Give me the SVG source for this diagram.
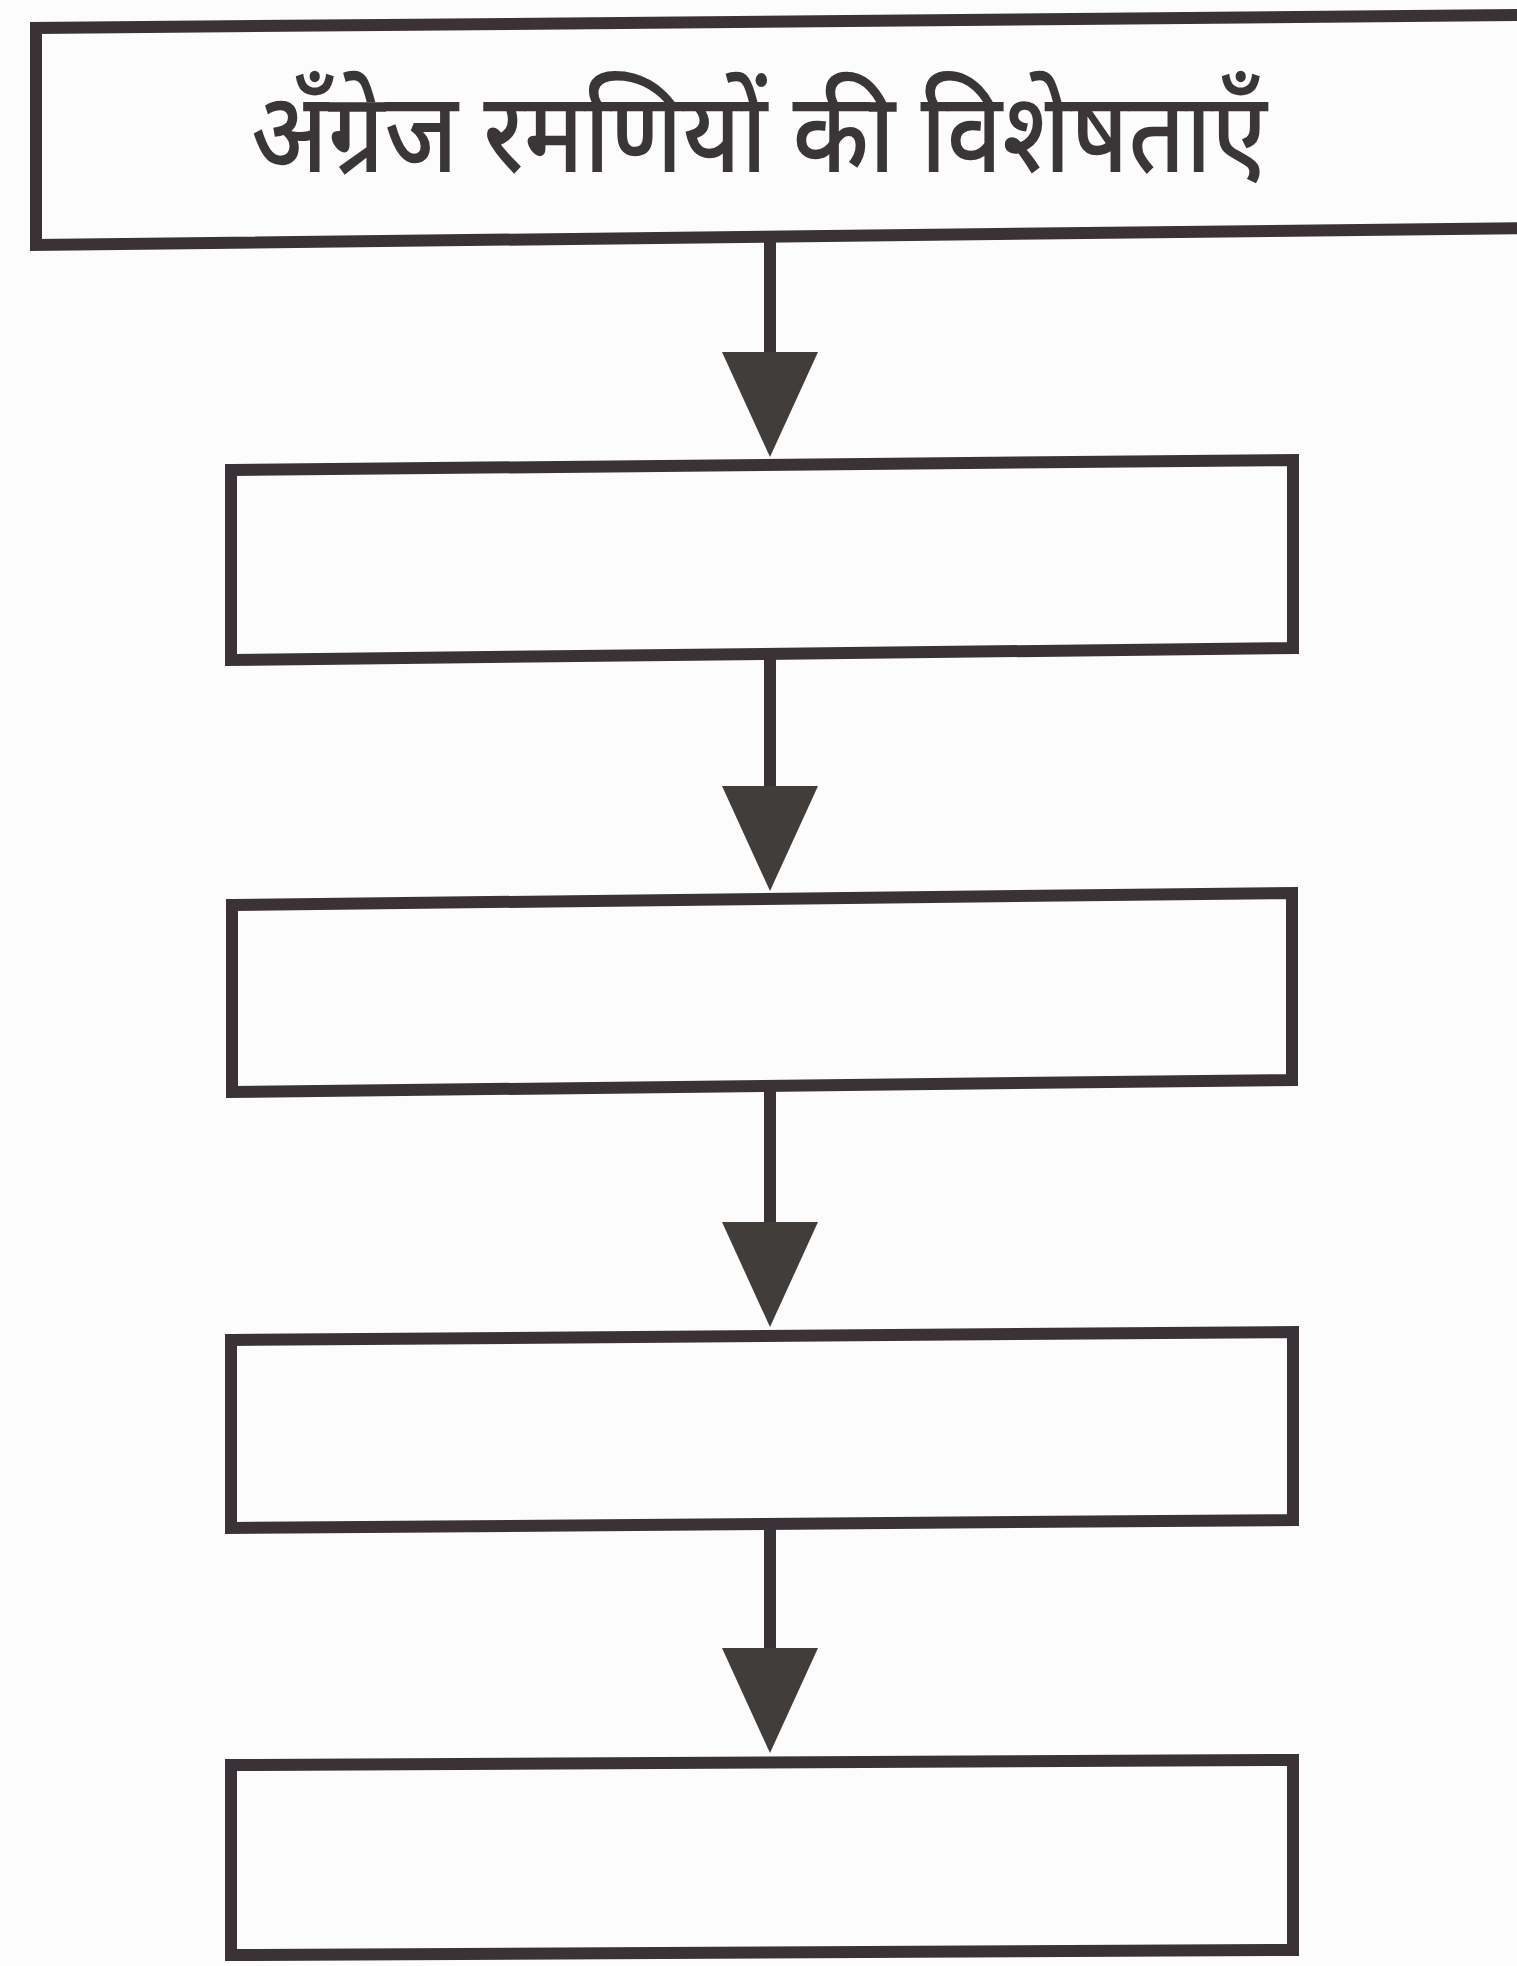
<svg xmlns="http://www.w3.org/2000/svg" width="1517" height="1966" viewBox="0 0 1517 1966">
  <defs>
    <style>
      .box { fill: none; stroke: #3a3236; stroke-width: 12; stroke-linejoin: miter; }
      .conn { stroke: #3a3236; stroke-width: 12; fill: none; }
      .title { font-family: "Noto Sans Devanagari", "Noto Sans", "Lohit Devanagari", "FreeSans", sans-serif; font-size: 112px; font-weight: 500; fill: #3a3638; }
    </style>
    <marker id="head" markerUnits="userSpaceOnUse" markerWidth="110" markerHeight="100" viewBox="0 -50 106 100" refX="0" refY="0" orient="auto" overflow="visible">
      <path d="M0,-48 L105,0 L0,48 Z" fill="#403d3b"/>
    </marker>
  </defs>
  <rect x="0" y="0" width="1517" height="1966" fill="#fcfcfc"/>

  <g id="connectors">
    <line class="conn" x1="770" y1="238" x2="770" y2="352" marker-end="url(#head)"/>
    <line class="conn" x1="770" y1="652" x2="770" y2="786" marker-end="url(#head)"/>
    <line class="conn" x1="770" y1="1086" x2="770" y2="1222" marker-end="url(#head)"/>
    <line class="conn" x1="770" y1="1524" x2="770" y2="1648" marker-end="url(#head)"/>
  </g>

  <g id="node-title">
    <path class="box" d="M1530,15 L36,28 L36,245 L1530,228"/>
    <text class="title" x="251" y="172" textLength="1016" lengthAdjust="spacingAndGlyphs">अँग्रेज रमणियों की विशेषताएँ</text>
  </g>
  <g id="node-1">
    <path class="box" d="M231,470 L1293,460 L1293,648 L231,660 Z"/>
  </g>
  <g id="node-2">
    <path class="box" d="M232,905 L1292,893 L1292,1080 L232,1092 Z"/>
  </g>
  <g id="node-3">
    <path class="box" d="M231,1340 L1293,1332 L1293,1520 L231,1528 Z"/>
  </g>
  <g id="node-4">
    <path class="box" d="M231,1765 L1293,1760 L1293,1950 L231,1955 Z"/>
  </g>
</svg>
